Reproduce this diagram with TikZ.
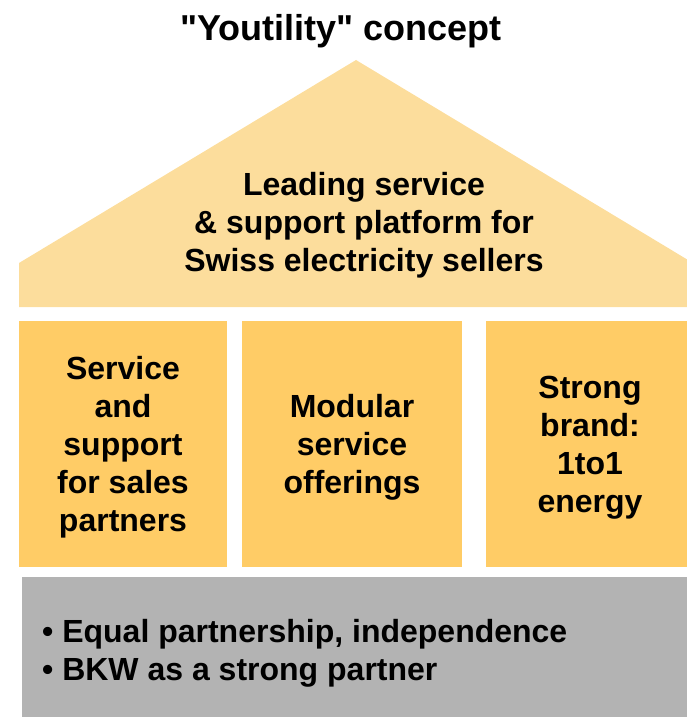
\documentclass[tikz,border=0pt]{standalone}
\usepackage{fontspec}
\setmainfont{Liberation Sans}
\newfontfamily\titlefont{Liberation Sans}[Ligatures=ResetAll]
\definecolor{roofc}{RGB}{252,221,156}
\definecolor{pillarc}{RGB}{255,204,102}
\definecolor{basec}{RGB}{179,179,179}
\begin{document}
\begin{tikzpicture}[x=1pt,y=-1pt,
  txt/.style={font=\bfseries\fontsize{32}{38}\selectfont, align=center, inner sep=0pt},
  pillar/.style={txt, fill=pillarc, draw=none, minimum height=246pt}]
\useasboundingbox (0,0) rectangle (687,717);
\begin{scope}
\clip (0,0) rectangle (687,717);
\fill[roofc] (19,307) -- (19,263) -- (356,60) -- (693,263) -- (693,307) -- cycle;
\fill[basec] (22,577) rectangle (700,730);
\fill[pillarc] (19,321) rectangle (227,567);
\fill[pillarc] (242,321) rectangle (462,567);
\fill[pillarc] (486,321) rectangle (700,567);
\end{scope}
\node[txt] (p1) at (123,447.5) {Service\\and\\support\\for sales\\partners};
\node[txt] (p2) at (352,447.5) {Modular\\service\\offerings};
\node[txt] (p3) at (590,447.5) {Strong\\brand:\\1to1\\energy};
\node[font=\titlefont\bfseries\fontsize{36}{42}\selectfont, inner sep=0pt] (title) at (341,31) {"Youtility" concept};
\node[txt] (roof) at (364,225.5) {Leading service\\\& support platform for\\Swiss electricity sellers};
\node[txt, align=left, anchor=west] (base) at (42,653) {• Equal partnership, independence\\• BKW as a strong partner};
\end{tikzpicture}
\end{document}
